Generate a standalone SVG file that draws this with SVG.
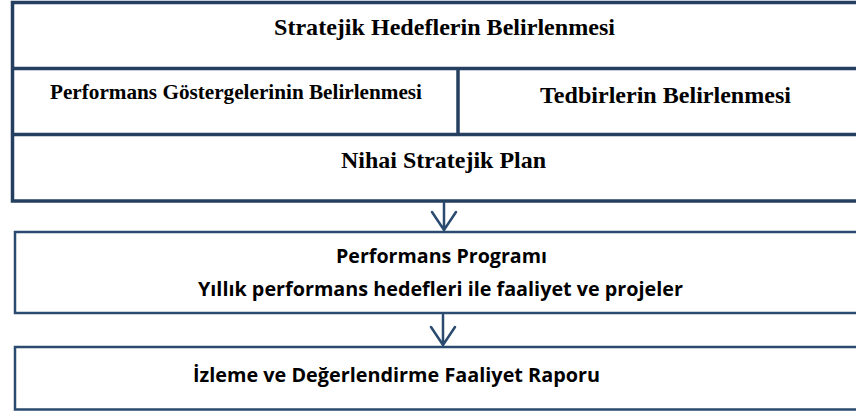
<svg xmlns="http://www.w3.org/2000/svg" width="856" height="413" viewBox="0 0 856 413">
<style>
.frame{fill:#fff;stroke:#243F60;stroke-width:3.5}
.box{fill:#fff;stroke:#2B4A70;stroke-width:2.5}
.div{stroke:#243F60;stroke-width:3.5;fill:none}
.serif{font-family:"Liberation Serif","Times New Roman",serif;font-weight:bold;fill:#000;text-anchor:middle}
.sans{font-family:"Open Sans","Noto Sans","Liberation Sans",sans-serif;font-weight:bold;fill:#000;text-anchor:middle}
.arrow{stroke:#2B4A70;stroke-width:2.5;fill:none;stroke-linecap:round;stroke-linejoin:miter}
</style>
<g id="plan">
<rect class="frame" x="12.5" y="2.5" width="860" height="198.5"/>
<line class="div" x1="12.5" y1="68.5" x2="872" y2="68.5"/>
<line class="div" x1="12.5" y1="134.5" x2="872" y2="134.5"/>
<line class="div" x1="458" y1="68.5" x2="458" y2="134.5"/>
</g>
<g id="hedefler"><text class="serif" x="444.5" y="35" font-size="24" textLength="341" lengthAdjust="spacingAndGlyphs">Stratejik Hedeflerin Belirlenmesi</text></g>
<g id="gostergeler"><text class="serif" x="236" y="99" font-size="21" textLength="372" lengthAdjust="spacingAndGlyphs">Performans Göstergelerinin Belirlenmesi</text></g>
<g id="tedbirler"><text class="serif" x="665.5" y="103" font-size="24" textLength="251" lengthAdjust="spacingAndGlyphs">Tedbirlerin Belirlenmesi</text></g>
<g id="nihai"><text class="serif" x="443.5" y="168" font-size="24" textLength="205" lengthAdjust="spacingAndGlyphs">Nihai Stratejik Plan</text></g>
<g id="program">
<rect class="box" x="15" y="232" width="860" height="81"/>
<text class="sans" x="441.5" y="263" font-size="19" textLength="211" lengthAdjust="spacingAndGlyphs">Performans Programı</text>
<text class="sans" x="440.5" y="296" font-size="19" textLength="485" lengthAdjust="spacingAndGlyphs">Yıllık performans hedefleri ile faaliyet ve projeler</text>
</g>
<g id="rapor">
<rect class="box" x="15" y="347" width="860" height="62.5"/>
<text class="sans" x="396.5" y="382" font-size="19" textLength="407" lengthAdjust="spacingAndGlyphs">İzleme ve Değerlendirme Faaliyet Raporu</text>
</g>
<g id="connectors">
<path class="arrow" d="M444 202V230M432 212L444 230L456 212"/>
<path class="arrow" d="M443 315V345M431 327L443 345L455 327"/>
</g>
</svg>
